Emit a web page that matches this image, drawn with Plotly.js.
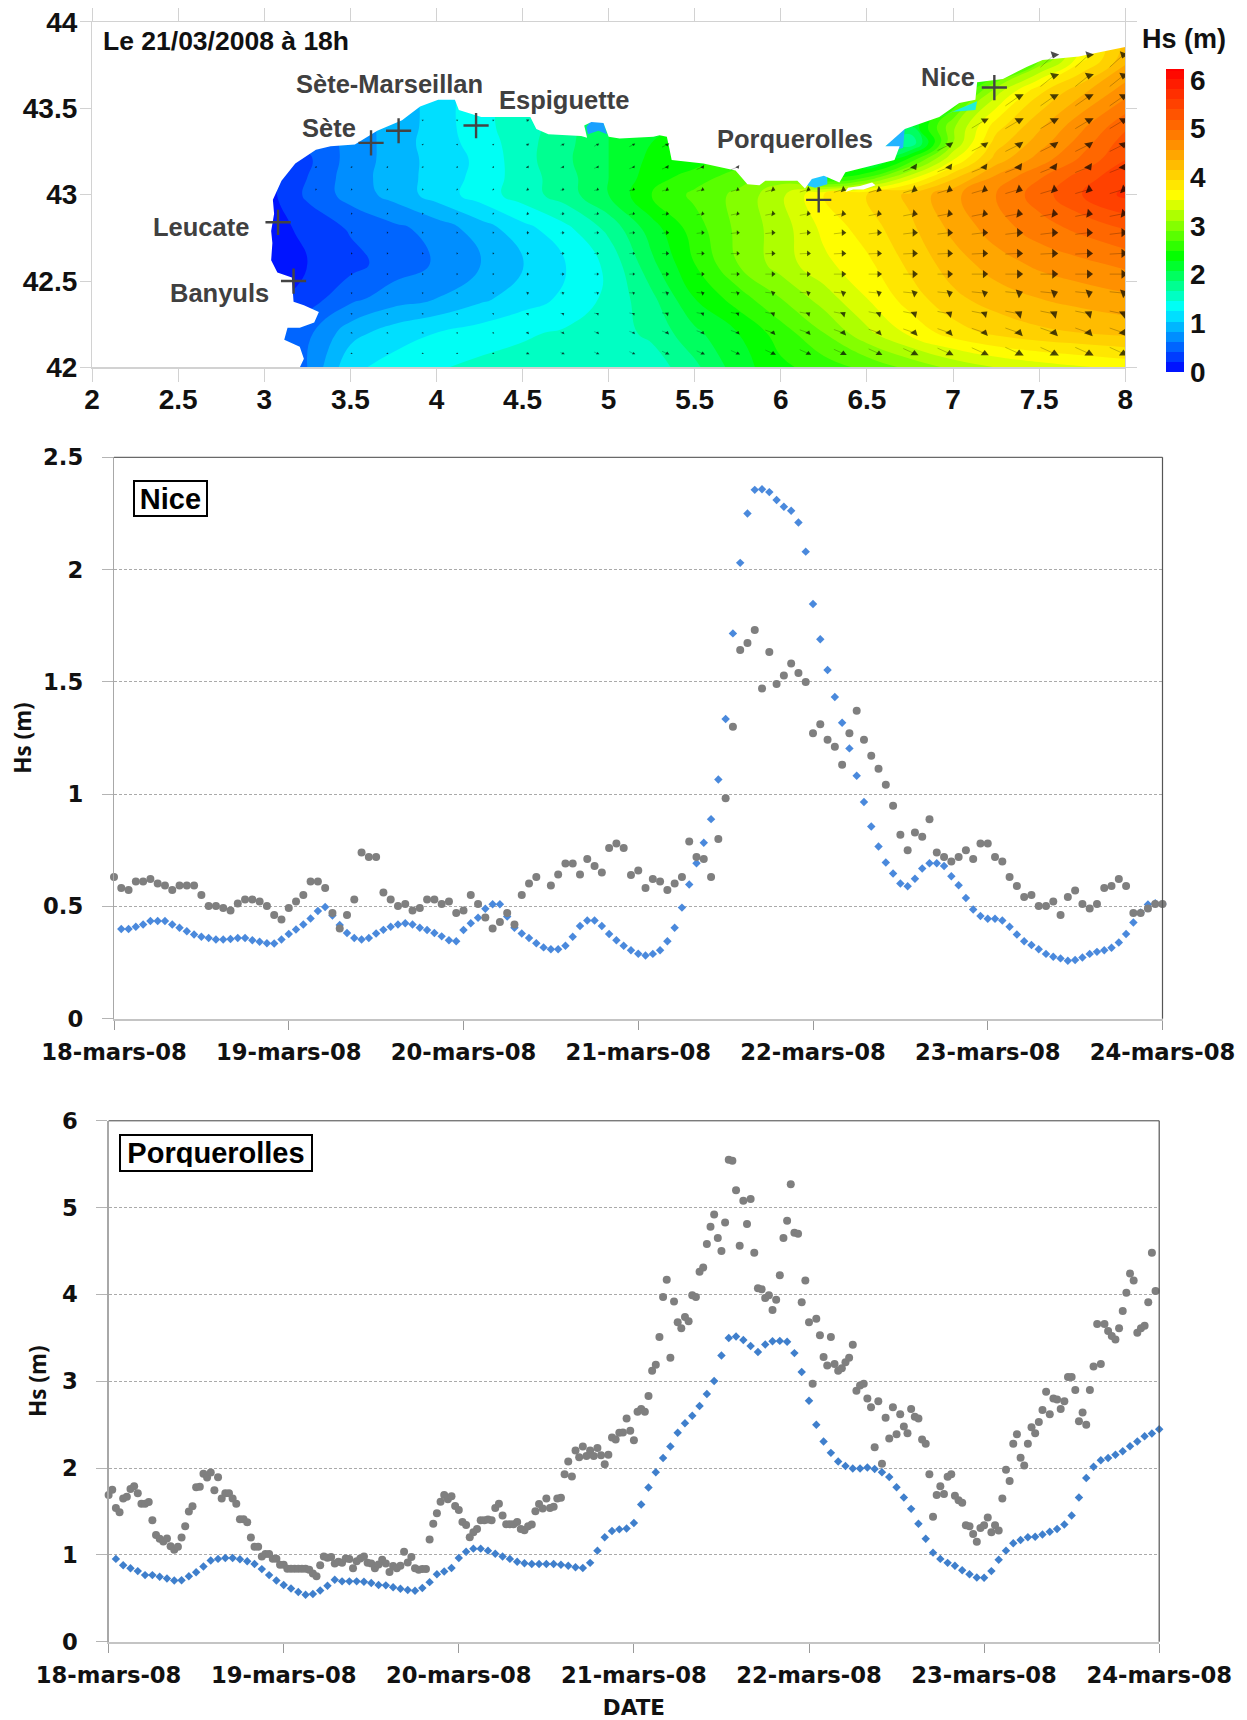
<!DOCTYPE html>
<html>
<head>
<meta charset="utf-8">
<script src="https://cdn.plot.ly/plotly-3.0.1.min.js"></script>
<style>html,body{margin:0;padding:0;background:#fff}#chart{width:1247px;height:1720px}</style>
</head>
<body>
<div id="chart"></div>
<script>
// ---------- time-series data ----------
const dayLabels = ['18-mars-08','19-mars-08','20-mars-08','21-mars-08','22-mars-08','23-mars-08','24-mars-08'];
const dayHours = [0,24,48,72,96,120,144];

// Nice: model hourly from hour 1, measured hourly from hour 0
const niceModel = [0.40,0.40,0.41,0.42,0.435,0.435,0.435,0.42,0.405,0.39,0.375,0.365,0.36,0.353,0.353,0.355,0.36,0.36,0.35,0.343,0.336,0.335,0.353,0.378,
0.398,0.42,0.447,0.48,0.498,0.46,0.418,0.382,0.36,0.353,0.36,0.38,0.396,0.41,0.42,0.425,0.42,0.405,0.395,0.382,0.367,0.35,0.345,0.395,
0.425,0.45,0.49,0.51,0.51,0.455,0.405,0.38,0.36,0.336,0.318,0.31,0.31,0.325,0.365,0.413,0.438,0.438,0.413,0.378,0.35,0.325,0.305,0.29,
0.282,0.289,0.305,0.345,0.405,0.495,0.598,0.693,0.784,0.889,1.065,1.335,1.716,2.03,2.25,2.355,2.358,2.345,2.31,2.28,2.262,2.21,2.08,1.847,
1.69,1.553,1.433,1.318,1.204,1.082,0.965,0.856,0.767,0.696,0.647,0.602,0.59,0.624,0.669,0.693,0.693,0.68,0.635,0.595,0.538,0.487,0.458,0.445,
0.445,0.438,0.41,0.375,0.345,0.329,0.31,0.289,0.276,0.269,0.258,0.262,0.273,0.289,0.298,0.305,0.316,0.34,0.378,0.429,0.473,0.509,0.515,0.511];
const niceObserved = [0.631,0.582,0.573,0.611,0.611,0.622,0.602,0.593,0.573,0.593,0.593,0.593,0.551,0.502,0.502,0.493,0.482,0.513,0.531,0.531,0.522,0.502,0.462,0.442,
0.493,0.522,0.551,0.611,0.611,0.582,0.471,0.402,0.462,0.531,0.74,0.72,0.72,0.562,0.531,0.502,0.511,0.482,0.493,0.531,0.531,0.511,0.522,0.471,
0.482,0.551,0.511,0.451,0.402,0.431,0.471,0.42,0.551,0.602,0.631,null,0.593,0.642,0.691,0.691,0.642,0.711,0.68,0.651,0.76,0.78,0.76,0.64,0.66,
0.582,0.622,0.611,0.573,0.602,0.631,0.789,0.72,0.711,0.631,0.8,0.982,1.3,1.642,1.673,1.731,1.471,1.633,1.491,1.529,1.582,1.54,1.5,1.271,
1.311,1.242,1.211,1.131,1.271,1.371,1.242,1.171,1.113,1.042,0.949,0.82,0.751,0.829,0.811,0.889,0.74,0.72,0.7,0.72,0.751,0.711,0.78,0.78,
0.72,0.7,0.631,0.591,0.542,0.551,0.502,0.502,0.522,0.462,0.542,0.571,0.511,0.491,0.511,0.582,0.591,0.622,0.591,0.471,0.471,0.491,0.511,0.511];

// Porquerolles: model hourly from hour 1, measured half-hourly from hour 0
const porqModel = [0.954,0.881,0.845,0.813,0.767,0.767,0.749,0.727,0.704,0.708,0.754,0.799,0.867,0.935,0.954,0.963,0.963,0.949,0.926,0.895,0.836,0.767,0.704,0.654,
0.613,0.572,0.54,0.549,0.59,0.645,0.713,0.695,0.695,0.695,0.69,0.677,0.654,0.649,0.627,0.609,0.595,0.586,0.618,0.686,0.777,0.808,0.849,0.963,
1.035,1.072,1.072,1.049,1.013,0.981,0.954,0.922,0.904,0.895,0.895,0.895,0.895,0.886,0.876,0.858,0.849,0.908,1.049,1.203,1.276,1.294,1.303,1.367,
1.58,1.776,1.953,2.116,2.248,2.407,2.516,2.602,2.716,2.852,3.002,3.297,3.497,3.515,3.474,3.406,3.338,3.424,3.46,3.465,3.456,3.324,3.106,2.775,
2.498,2.307,2.175,2.075,2.025,1.994,1.994,2.007,1.989,1.953,1.898,1.78,1.662,1.53,1.358,1.185,1.026,0.954,0.908,0.876,0.822,0.777,0.74,0.736,
0.813,0.945,1.049,1.135,1.172,1.203,1.208,1.235,1.267,1.299,1.349,1.453,1.662,1.885,2.016,2.089,2.116,2.153,2.193,2.252,2.307,2.366,2.398,2.448];
const porqObserved = [1.69,1.75,1.54,1.49,1.65,1.67,1.76,1.79,1.71,1.59,1.59,1.61,1.40,1.23,1.185,1.155,1.19,1.10,1.06,1.095,
1.20,1.33,1.50,1.56,1.78,1.785,1.935,1.89,1.95,1.745,1.895,1.65,1.71,1.71,1.65,1.59,1.41,1.41,1.375,1.20,
1.095,1.095,0.98,1.01,1.01,0.955,0.955,0.885,0.885,0.84,0.84,0.84,0.84,0.84,0.84,0.83,0.785,0.755,0.88,0.98,
0.967,0.976,0.90,0.92,0.91,0.958,0.954,0.845,0.926,0.958,0.98,0.908,0.90,0.845,0.89,0.945,0.90,0.804,0.872,0.845,
0.876,1.035,0.913,0.976,0.845,0.83,0.836,0.836,1.176,1.358,1.48,1.612,1.69,1.64,1.676,1.562,1.517,1.38,1.344,1.203,
1.262,1.299,1.399,1.399,1.408,1.399,1.54,1.589,1.453,1.353,1.353,1.353,1.38,1.299,1.285,1.33,1.349,1.503,1.585,1.535,
1.649,1.54,1.553,1.649,1.658,1.93,2.075,1.903,2.203,2.125,2.248,2.139,2.203,2.139,2.23,2.148,2.044,2.153,2.352,2.33,
2.407,2.41,2.57,2.43,2.32,2.65,2.68,2.65,2.83,3.12,3.19,3.51,3.97,4.17,3.27,3.92,3.68,3.61,3.74,3.69,
3.99,3.97,4.26,4.31,4.58,4.78,4.92,4.65,4.50,4.83,5.55,5.54,5.20,4.56,5.08,4.81,5.10,4.48,4.07,4.06,
3.96,3.99,3.82,3.94,4.22,4.65,4.85,5.27,4.71,4.70,3.91,4.16,3.68,2.97,3.72,3.53,3.28,3.18,3.51,3.20,
3.12,3.15,3.22,3.27,3.42,2.89,2.95,2.97,2.80,2.70,2.24,2.77,2.05,2.58,2.34,2.70,2.39,2.62,2.48,2.40,
2.68,2.59,2.57,2.33,2.28,1.93,1.44,1.69,1.79,1.70,1.90,1.93,1.68,1.63,1.60,1.34,1.33,1.24,1.15,1.31,
1.34,1.43,1.26,1.34,1.28,1.65,1.98,1.85,2.28,2.39,2.12,2.03,2.28,2.47,2.40,2.53,2.67,2.88,2.62,2.80,
2.79,2.68,2.77,3.05,3.05,2.90,2.54,2.64,2.50,2.90,3.17,3.66,3.20,3.66,3.58,3.52,3.48,3.61,3.81,4.02,
4.24,4.16,3.56,3.61,3.64,3.91,4.48,4.04];

// ---------- map data (Hs field) ----------
const mapLons = [3,3.25,3.5,3.75,4,4.25,4.5,4.75,5,5.25,5.5,5.75,6,6.25,6.5,6.75,7,7.25,7.5,7.75,8];
const mapLats = [42,42.2,42.4,42.6,42.8,43,43.1,43.2,43.3,43.4,43.6,43.8,44];
const hsGrid = [
[0.25,0.6,1.15,1.28,1.38,1.45,1.48,1.5,1.5,1.48,1.75,2.1,2.35,2.5,2.65,2.85,3.05,3.2,3.3,3.38,3.45],
[0.3,0.55,0.92,1.1,1.2,1.29,1.37,1.43,1.5,1.65,1.95,2.2,2.5,2.8,3.15,3.45,3.7,3.85,3.95,4.0,4.05],
[0.1,0.3,0.54,0.7,0.8,0.95,1.1,1.24,1.45,1.75,2.2,2.5,2.8,3.1,3.4,3.7,3.95,4.1,4.2,4.28,4.35],
[0.1,0.2,0.33,0.49,0.62,0.78,0.98,1.2,1.45,1.95,2.4,2.8,3.1,3.35,3.55,3.85,4.1,4.3,4.45,4.55,4.65],
[0.1,0.25,0.42,0.54,0.68,0.89,1.12,1.34,1.65,2.1,2.5,2.85,3.1,3.45,3.7,3.95,4.25,4.5,4.7,4.85,5.0],
[0.1,0.44,0.68,0.87,1.09,1.29,1.5,1.7,2.0,2.4,2.65,2.85,3.15,3.6,3.8,4.05,4.35,4.6,4.9,5.2,5.45],
[0.1,0.4,0.7,0.89,1.08,1.26,1.5,1.72,2.0,2.3,2.5,2.7,2.9,2.3,2.6,3.3,3.95,4.45,4.78,5.1,5.35],
[0.2,0.36,0.68,0.88,1.08,1.24,1.52,1.76,2.0,2.25,2.3,2.5,2.65,2.6,1.8,2.5,3.4,4.1,4.5,4.85,5.2],
[0.3,0.44,0.66,0.89,1.1,1.28,1.52,1.74,2.0,2.2,2.3,2.3,2.2,2.2,2.0,1.6,3.0,3.9,4.3,4.7,5.1],
[0.3,0.44,0.68,0.88,1.08,1.34,1.5,1.72,2.0,2.15,2.25,2.25,2.2,2.1,2.0,2.0,2.95,3.7,4.15,4.55,4.95],
[0.3,0.44,0.68,0.88,1.08,1.34,1.5,1.72,2.0,2.15,2.2,2.2,2.1,2.0,1.8,1.6,2.2,3.1,3.75,4.15,4.5],
[0.3,0.44,0.68,0.88,1.08,1.34,1.5,1.72,2.0,2.15,2.2,2.2,2.0,1.8,1.6,1.5,1.5,1.9,2.7,3.5,4.1],
[0.3,0.44,0.68,0.88,1.08,1.34,1.5,1.72,2.0,2.15,2.2,2.2,2.0,1.8,1.6,1.5,1.5,1.9,2.7,3.5,4.1]
];
// Coast outline of the land (lon/lat), from the Spanish side to the Italian border
const coastLon = [3.206,3.23,3.206,3.116,3.135,3.206,3.29,3.317,3.23,3.17,3.16,3.076,3.04,3.047,3.04,3.057,3.05,3.1,3.18,3.3,3.385,3.526,3.656,3.8,3.905,4.01,4.107,4.13,4.26,4.545,4.58,4.65,4.84,4.875,4.858,4.9,4.97,5.0,5.064,5.26,5.296,5.338,5.354,5.366,5.55,5.737,5.806,5.876,5.91,6.096,6.14,6.18,6.25,6.34,6.375,6.5,6.66,6.69,6.607,6.72,6.92,7.036,7.13,7.14,7.29,7.43,7.52,7.73,8];
const coastLat = [42,42.05,42.12,42.16,42.23,42.23,42.26,42.32,42.36,42.38,42.52,42.55,42.62,42.72,42.79,42.89,42.97,43.08,43.18,43.26,43.28,43.29,43.37,43.43,43.51,43.55,43.55,43.49,43.45,43.45,43.38,43.35,43.34,43.33,43.40,43.42,43.415,43.335,43.325,43.335,43.344,43.335,43.26,43.2,43.18,43.14,43.06,43.055,43.08,43.08,43.035,43.09,43.11,43.07,43.13,43.16,43.2,43.28,43.28,43.38,43.45,43.53,43.55,43.65,43.67,43.74,43.78,43.8,43.855];
const landCornerLon = [8,2,2,3.206];
const landCornerLat = [44,44,42,42];
const islandLon = [6.375,6.42,6.48,6.55,6.53,6.46,6.39];
const islandLat = [43.015,43.03,43.03,43.055,43.07,43.05,43.04];
// Shallow bays whose Hs is far below the surrounding sea
const bayNames = ['Berre','Hyeres','Saint-Tropez','Cannes'];
const bayColors = ['#1aa0ff','#22c8ff','#20b4ff','#20f0d8'];
const bayLon = [[4.87,4.9,4.97,4.99,4.94,4.88],[6.15,6.17,6.27,6.27,6.2,6.16],[6.6,6.69,6.72,6.71,6.67],[6.9,7.14,7.13,7.0,6.9]];
const bayLat = [[43.39,43.43,43.42,43.35,43.37,43.35],[43.06,43.11,43.12,43.06,43.04,43.05],[43.27,43.37,43.39,43.27,43.26],[43.44,43.54,43.49,43.48,43.44]];

const stationNames = ['Leucate','Banyuls','Sète','Sète-Marseillan','Espiguette','Porquerolles','Nice'];
const stationLon = [3.08,3.17,3.62,3.78,4.23,6.22,7.24];
const stationLat = [42.84,42.5,43.3,43.37,43.4,42.97,43.62];
const labelLon = [2.63,2.74,3.375,3.73,4.74,6.08,6.97];
const labelLat = [42.81,42.43,43.385,43.64,43.55,43.32,43.68];

// Direction markers: one row per latitude, sea columns only
const arrowColLon = [3.30,3.507,3.715,3.92,4.12,4.33,4.53,4.735,4.936,5.145,5.34,5.546,5.75,5.955,6.16,6.363,6.57,6.776,6.98,7.184,7.384,7.588,7.79,7.99];
const arrowTail = [0,0,0,0,0,0.005,0.01,0.015,0.02,0.025,0.03,0.035,0.04,0.045,0.05,0.055,0.06,0.065,0.07,0.075,0.08,0.08,0.08,0.08];
const arrowSize = [2,2,2,2,2,2,3,3,3,3,4,4,4,5,5,6,6,7,7,7,8,8,8,8];
const arrowRowLat = [42.08,42.2,42.31,42.43,42.54,42.66,42.78,42.89,43.03,43.16,43.29,43.43,43.57,43.69,43.81];
const arrowRowSlope = [-0.45,-0.35,-0.2,-0.1,0,0.05,0.12,0.2,0.3,0.4,0.5,0.6,0.7,0.8,0.9];
const arrowRowHead = [0,20,50,70,90,90,90,100,110,150,170,180,180,190,200];
const arrowRowFirst = [1,1,1,1,1,1,1,1,0,0,3,3,-1,-1,-1];
const arrowRowLast = [23,23,23,23,23,23,23,23,23,12,10,6,-1,-1,-1];
const arrowRowFirst2 = [-1,-1,-1,-1,-1,-1,-1,-1,-1,17,18,19,20,21,21];
const arrowRowLast2 = [-1,-1,-1,-1,-1,-1,-1,-1,-1,23,23,23,23,23,23];

// Colour-bar labels sit slightly tighter than the bar itself
const barLabelPos = [0,0.96,1.93,2.89,3.85,4.82,5.78];
const barLabels = ['0','1','2','3','4','5','6'];

// ---------- page geometry (pixels of the 1247x1720 page) ----------
const W = 1247, H = 1720;
const px = (a,b) => [a/W, b/W];
const py = (top,bottom) => [1-bottom/H, 1-top/H];

const numFont = {family:'"DejaVu Sans"', size:22.7, color:'#111', weight:700};
const mapFont = {family:'"Liberation Sans"', size:28, color:'#111', weight:700};
const BLUE = '#4a89dc', GREY = '#7f7f7f';

const headX=[],headY=[],headS=[],headA=[],tailX=[],tailY=[];
arrowRowLat.forEach((lat,r)=>{
  [[arrowRowFirst[r],arrowRowLast[r]],[arrowRowFirst2[r],arrowRowLast2[r]]].forEach(([a,b])=>{
    if(a<0) return;
    for(let c=a;c<=b;c++){
      headX.push(arrowColLon[c]);headY.push(lat);headS.push(arrowSize[c]);headA.push(arrowRowHead[r]);
      if(arrowTail[c]>0){
        tailX.push(arrowColLon[c]-arrowTail[c],arrowColLon[c],null);
        tailY.push(lat-arrowTail[c]*arrowRowSlope[r],lat,null);
      }
    }
  });
});

const hoursFrom = (start,step,n) => Array.from({length:n},(_,i)=>start+i*step);

const traces = [
 {type:'contour',x:mapLons,y:mapLats,z:hsGrid,xaxis:'x',yaxis:'y',zmin:0,zmax:6,zauto:false,
  autocontour:false,contours:{start:0,end:6,size:0.2,coloring:'fill',showlines:false},line:{width:0,smoothing:1.3},
  colorscale:[[0,'#0000ff'],[0.21,'#00ffff'],[0.38,'#00ff00'],[0.58,'#ffff00'],[0.8,'#ff7000'],[1,'#ff0000']],
  colorbar:{x:1166/W,xanchor:'left',y:1-69/H,yanchor:'top',thickness:18,thicknessmode:'pixels',len:303,lenmode:'pixels',
    xpad:0,ypad:0,outlinewidth:0,tickmode:'array',tickvals:barLabelPos,ticktext:barLabels,ticks:'',tickfont:mapFont,ticklabelposition:'outside'},
  hoverinfo:'skip'},
 ...bayNames.map((n,i)=>({type:'scatter',name:n,mode:'lines',x:bayLon[i],y:bayLat[i],xaxis:'x',yaxis:'y',fill:'toself',fillcolor:bayColors[i],line:{width:0},hoverinfo:'skip'})),
 {type:'scatter',mode:'lines',x:coastLon.concat(landCornerLon),y:coastLat.concat(landCornerLat),xaxis:'x',yaxis:'y',fill:'toself',fillcolor:'#ffffff',line:{width:0},hoverinfo:'skip'},
 {type:'scatter',mode:'lines',x:islandLon,y:islandLat,xaxis:'x',yaxis:'y',fill:'toself',fillcolor:'#ffffff',line:{width:0},hoverinfo:'skip'},
 {type:'scatter',mode:'lines',x:tailX,y:tailY,xaxis:'x',yaxis:'y',line:{color:'rgba(0,0,0,0.4)',width:0.6},hoverinfo:'skip',connectgaps:false},
 {type:'scatter',mode:'markers',x:headX,y:headY,xaxis:'x',yaxis:'y',marker:{symbol:'triangle-up',size:headS,angle:headA,color:'#000',line:{width:0}},hoverinfo:'skip'},
 {type:'scatter',mode:'markers',x:stationLon,y:stationLat,text:stationNames,xaxis:'x',yaxis:'y',marker:{symbol:'cross-thin',size:18,line:{width:2.4,color:'#444'}}},

 {type:'scatter',mode:'markers',name:'Modèle',x:hoursFrom(1,1,niceModel.length),y:niceModel,xaxis:'x2',yaxis:'y2',cliponaxis:false,marker:{symbol:'diamond',size:6.5,color:BLUE}},
 {type:'scatter',mode:'markers',name:'Mesures',x:hoursFrom(0,1,niceObserved.length),y:niceObserved,xaxis:'x2',yaxis:'y2',cliponaxis:false,marker:{symbol:'circle',size:8,color:GREY}},

 {type:'scatter',mode:'markers',name:'Modèle',x:hoursFrom(1,1,porqModel.length),y:porqModel,xaxis:'x3',yaxis:'y3',cliponaxis:false,marker:{symbol:'diamond',size:6.5,color:'#3f7fcc'}},
 {type:'scatter',mode:'markers',name:'Mesures',x:hoursFrom(0,0.5,porqObserved.length),y:porqObserved,xaxis:'x3',yaxis:'y3',cliponaxis:false,marker:{symbol:'circle',size:8,color:GREY}}
];

const lineAnn = (text,x,y) => ({text,x,y,xref:'x',yref:'y',showarrow:false,xanchor:'center',yanchor:'middle',font:{family:'"Liberation Sans"',size:25.5,color:'#404040',weight:700}});
const annotations = stationNames.map((n,i)=>lineAnn(n,labelLon[i],labelLat[i]));
annotations.push(
 {text:'Le 21/03/2008 à 18h',x:101/W,y:1-40.5/H,xref:'paper',yref:'paper',xanchor:'left',yanchor:'middle',showarrow:false,font:{family:'"Liberation Sans"',size:26.5,color:'#111',weight:700}},
 {text:'Hs (m)',x:1184/W,y:1-39.5/H,xref:'paper',yref:'paper',xanchor:'center',yanchor:'middle',showarrow:false,font:{family:'"Liberation Sans"',size:27,color:'#111',weight:700}},
 {text:'Nice',x:170/W,y:1-498.5/H,xref:'paper',yref:'paper',xanchor:'center',yanchor:'middle',showarrow:false,width:65,height:27,bordercolor:'#000',borderwidth:2,borderpad:3,bgcolor:'#fff',font:{family:'"Liberation Sans"',size:29,color:'#000',weight:700}},
 {text:'Porquerolles',x:215.5/W,y:1-1153/H,xref:'paper',yref:'paper',xanchor:'center',yanchor:'middle',showarrow:false,width:184,height:28,bordercolor:'#000',borderwidth:2,borderpad:3,bgcolor:'#fff',font:{family:'"Liberation Sans"',size:29,color:'#000',weight:700}}
);

const frame = (xa,ya) => ([
 {type:'line',xref:xa+' domain',yref:ya+' domain',x0:0,x1:1,y0:1,y1:1,line:{color:'#444',width:1}},
 {type:'line',xref:xa+' domain',yref:ya+' domain',x0:1,x1:1,y0:0,y1:1,line:{color:'#555',width:1.2}}
]);

const chartX = (domain,anchor,title) => ({domain,anchor,range:[0,144],tickmode:'array',tickvals:dayHours,ticktext:dayLabels,
  showgrid:false,zeroline:false,showline:true,linecolor:'#c4c4c4',linewidth:2,ticks:'outside',ticklen:9,tickcolor:'#9a9a9a',tickfont:numFont,
  ticklabelstandoff:3,title:title?{text:title,font:{family:'"DejaVu Sans"',size:21.5,color:'#111',weight:700},standoff:15}:undefined});
const chartY = (domain,anchor,range,dtick,titleStandoff) => ({domain,anchor,range,dtick,tick0:0,showgrid:true,griddash:'3px,2px',gridcolor:'#aaaaaa',gridwidth:1,
  zeroline:false,showline:true,linecolor:'#a8a8a8',linewidth:1.2,ticks:'outside',ticklen:11,tickcolor:'#b4b4b4',tickfont:numFont,ticklabelstandoff:14,
  title:{text:'Hs (m)',font:{family:'"Noto Sans"',size:22.5,color:'#111',weight:700},standoff:titleStandoff}});

const layout = {
 width:W,height:H,margin:{l:0,r:0,t:0,b:0},paper_bgcolor:'#fff',plot_bgcolor:'#fff',showlegend:false,
 xaxis:{domain:px(92.1,1125.2),anchor:'y',range:[2,8],dtick:0.5,tick0:2,showgrid:false,zeroline:false,showline:true,mirror:'ticks',linecolor:'#d2d2d2',linewidth:1.2,ticks:'outside',ticklen:13,tickcolor:'#d2d2d2',tickfont:mapFont,ticklabelstandoff:-6},
 yaxis:{domain:py(21.9,367.4),anchor:'x',range:[42,44],dtick:0.5,tick0:42,showgrid:false,zeroline:false,showline:true,mirror:'ticks',linecolor:'#d2d2d2',linewidth:1.2,ticks:'outside',ticklen:11,tickcolor:'#d2d2d2',tickfont:mapFont,ticklabelstandoff:-3},
 xaxis2:chartX(px(114,1162.5),'y2'),
 yaxis2:chartY(py(457.3,1018.8),'x2',[0,2.5],0.5,5),
 xaxis3:chartX(px(108.6,1159.2),'y3','DATE'),
 yaxis3:chartY(py(1120.8,1641.7),'x3',[0,6],1,9),
 annotations,
 shapes:[...frame('x2','y2'),...frame('x3','y3')]
};
Plotly.newPlot('chart',traces,layout,{displayModeBar:false,staticPlot:true});
</script>
</body>
</html>
